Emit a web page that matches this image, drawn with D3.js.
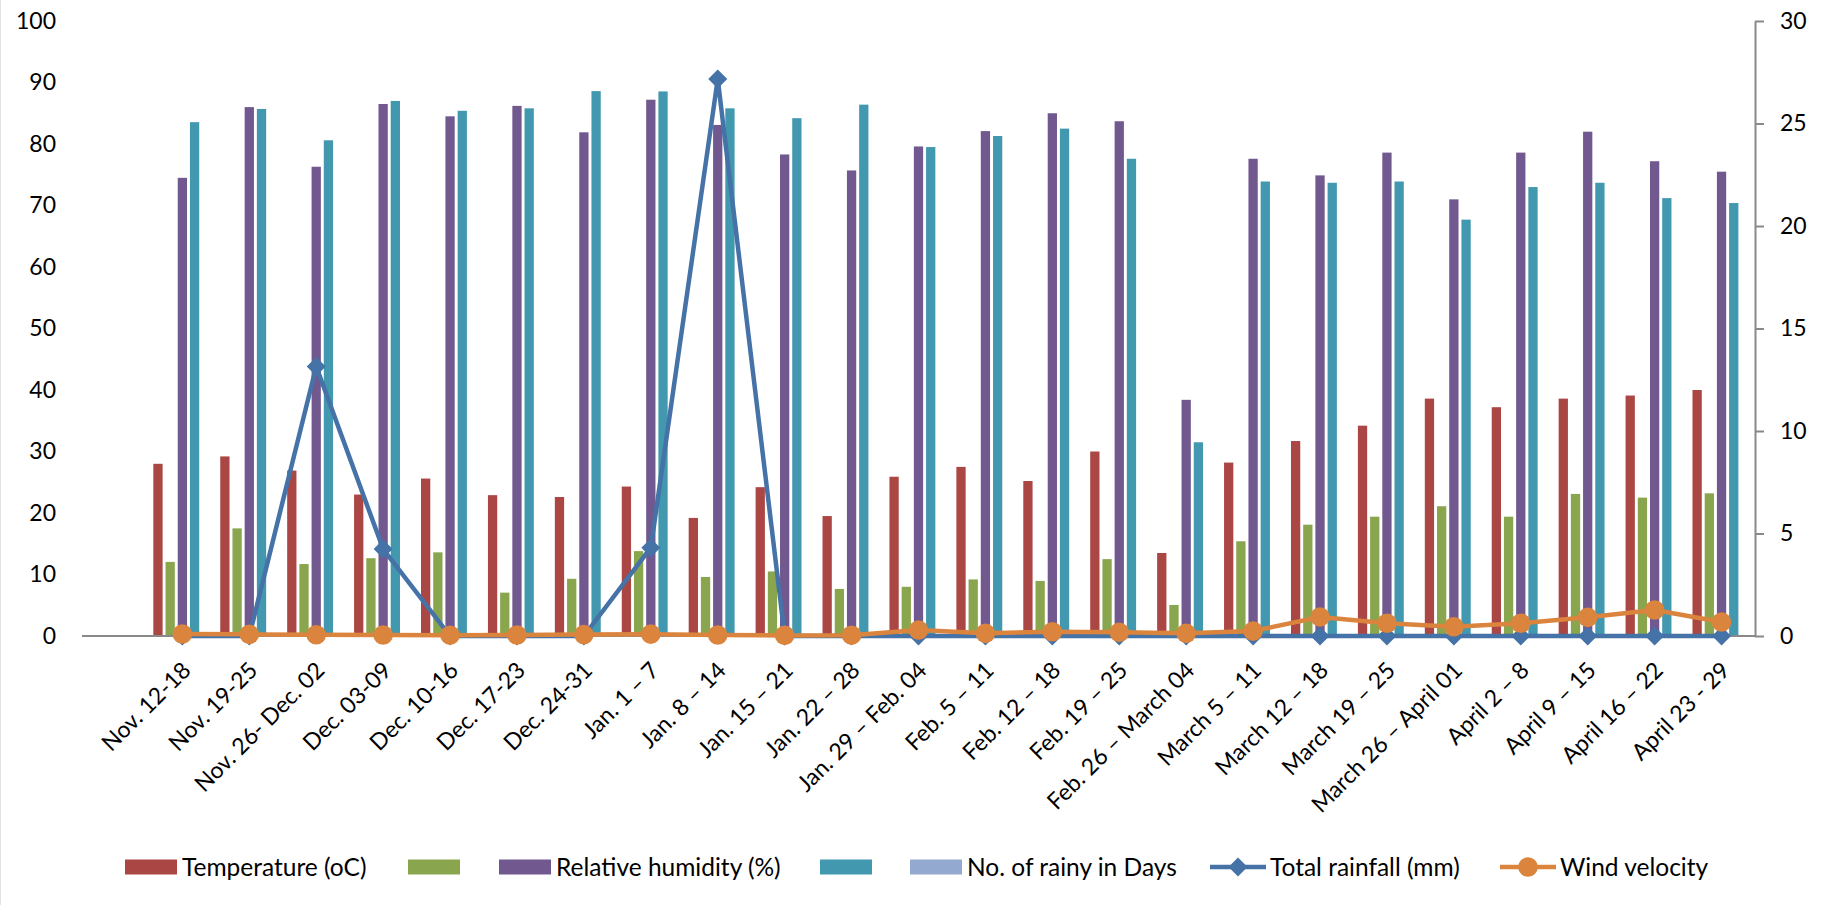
<!DOCTYPE html>
<html>
<head>
<meta charset="utf-8">
<script src="https://cdn.jsdelivr.net/npm/d3@7/dist/d3.min.js"></script>
<style>
  html, body { margin: 0; padding: 0; background: #fff; }
  svg text { font-family: Lato, "Open Sans", sans-serif; fill: #000; }
</style>
</head>
<body>
<svg id="chart" width="1822" height="905"></svg>
<script>
// ---------- data ----------
const categories = ["Nov. 12-18", "Nov. 19-25", "Nov. 26- Dec. 02", "Dec. 03-09", "Dec. 10-16", "Dec. 17-23", "Dec. 24-31",
  "Jan. 1 – 7", "Jan. 8 – 14", "Jan. 15 – 21", "Jan. 22 – 28", "Jan. 29 – Feb. 04", "Feb. 5 – 11", "Feb. 12 – 18",
  "Feb. 19 – 25", "Feb. 26 – March 04", "March 5 – 11", "March 12 – 18", "March 19 – 25", "March 26 – April 01",
  "April 2 – 8", "April 9 – 15", "April 16 – 22", "April 23 - 29"];

const temperature = [28.0, 29.2, 26.9, 23.0, 25.6, 22.9, 22.6, 24.3, 19.2, 24.2, 19.5, 25.9, 27.5, 25.2, 30.0, 13.5, 28.2, 31.7, 34.2, 38.6, 37.2, 38.6, 39.1, 40.0];
const greenSeries = [12.05, 17.5, 11.7, 12.65, 13.6, 7.05, 9.3, 13.8, 9.6, 10.5, 7.65, 8.0, 9.2, 8.96, 12.5, 5.05, 15.4, 18.1, 19.4, 21.1, 19.4, 23.1, 22.5, 23.2];
const humidity = [74.5, 86.0, 76.3, 86.5, 84.5, 86.2, 81.9, 87.2, 83.1, 78.3, 75.7, 79.6, 82.1, 85.0, 83.7, 38.4, 77.6, 74.9, 78.6, 71.0, 78.6, 82.0, 77.2, 75.5];
const tealSeries = [83.55, 85.7, 80.6, 87.0, 85.4, 85.8, 88.6, 88.55, 85.8, 84.2, 86.4, 79.5, 81.3, 82.5, 77.6, 31.5, 73.9, 73.7, 73.9, 67.7, 73.0, 73.7, 71.2, 70.4];
const rainyDays = [0, 0, 0, 0, 0, 0, 0, 0, 0, 0, 0, 0, 0, 0, 0, 0, 0, 0, 0, 0, 0, 0, 0, 0];
const totalRainfall = [0, 0, 13.15, 4.24, 0, 0, 0, 4.31, 27.17, 0, 0, 0, 0, 0, 0, 0, 0, 0, 0, 0, 0, 0, 0, 0];
const windVelocity = [0.10, 0.08, 0.06, 0.05, 0.04, 0.05, 0.07, 0.09, 0.05, 0.03, 0.04, 0.29, 0.13, 0.21, 0.18, 0.13, 0.24, 0.93, 0.62, 0.45, 0.62, 0.91, 1.27, 0.68];

const barSeriesNames = ["Temperature (oC)", "", "Relative humidity (%)", "", "No. of rainy in Days"];
const lineSeriesNames = ["Total rainfall (mm)", "Wind velocity"];
const leftTicks = [0, 10, 20, 30, 40, 50, 60, 70, 80, 90, 100];
const rightTicks = [0, 5, 10, 15, 20, 25, 30];

// ---------- styling ----------
const barColors = ["#AA4643", "#89A54E", "#71588F", "#4198AF", "#93A9CF"];
const lineColors = ["#4572A7", "#DB843D"];
const axisGray = "#898989";
const FONT = 23;

const svg = d3.select("#chart");
const plot = { left: 82, right: 1755, top: 21, bottom: 636 };

// chart-area edge
svg.append("line").attr("x1", 0.5).attr("x2", 0.5).attr("y1", 0).attr("y2", 905)
  .attr("stroke", "#e3e3e3").attr("stroke-width", 1);

const x = d3.scaleBand().domain([""].concat(categories)).range([plot.left, plot.right]).paddingInner(0).paddingOuter(0);
const yL = d3.scaleLinear().domain([0, 100]).range([plot.bottom, plot.top]);
const yR = d3.scaleLinear().domain([0, 30]).range([plot.bottom, plot.top]);

const groupW = x.bandwidth() * 0.912;
const x1 = d3.scaleBand().domain(d3.range(5)).range([-groupW / 2, groupW / 2]).paddingInner(0.24).paddingOuter(0.12);

const barData = [temperature, greenSeries, humidity, tealSeries, rainyDays];
const cx = c => x(c) + x.bandwidth() / 2;

// bars
barData.forEach((vals, si) => {
  svg.append("g").selectAll("rect").data(vals).join("rect")
    .attr("x", (d, i) => cx(categories[i]) + x1(si))
    .attr("width", x1.bandwidth())
    .attr("y", d => yL(d))
    .attr("height", d => yL(0) - yL(d))
    .attr("fill", barColors[si]);
});

// baseline (category axis)
svg.append("line").attr("x1", plot.left).attr("x2", plot.right)
  .attr("y1", yL(0)).attr("y2", yL(0)).attr("stroke", axisGray).attr("stroke-width", 2);

// left axis labels (no line)
const gL = svg.append("g").attr("transform", `translate(${plot.left},0)`)
  .call(d3.axisLeft(yL).tickValues(leftTicks).tickSize(0).tickPadding(26));
gL.select(".domain").remove();
gL.selectAll("text").attr("font-size", FONT).attr("font-family", "Lato, sans-serif").attr("fill", "#000");

// right axis
const gR = svg.append("g").attr("transform", `translate(${plot.right},0)`)
  .call(d3.axisRight(yR).tickValues(rightTicks).tickSize(9).tickSizeOuter(0).tickPadding(16));
gR.select(".domain").attr("stroke", axisGray).attr("stroke-width", 2);
gR.selectAll(".tick line").attr("stroke", axisGray).attr("stroke-width", 2);
gR.selectAll("text").attr("font-size", FONT).attr("font-family", "Lato, sans-serif").attr("fill", "#000");

// category labels
svg.append("g").selectAll("text").data(categories).join("text")
  .attr("transform", c => `translate(${cx(c) + 4},${yL(0) + 30}) rotate(-45)`)
  .attr("text-anchor", "end")
  .attr("dy", "0.35em")
  .attr("font-size", FONT)
  .text(c => c);

// lines
const diamond = "M0,-9.5L9.5,0L0,9.5L-9.5,0Z";
const lineDefs = [
  { vals: totalRainfall, color: lineColors[0], marker: "diamond" },
  { vals: windVelocity, color: lineColors[1], marker: "circle" }
];
lineDefs.forEach(ld => {
  const pts = ld.vals.map((v, i) => [cx(categories[i]), yR(v)]);
  svg.append("path").attr("d", d3.line()(pts)).attr("fill", "none")
    .attr("stroke", ld.color).attr("stroke-width", 4.5).attr("stroke-linejoin", "round");
  const g = svg.append("g");
  if (ld.marker === "diamond") {
    g.selectAll("path").data(pts).join("path")
      .attr("d", diamond).attr("transform", p => `translate(${p[0]},${p[1]})`).attr("fill", ld.color);
  } else {
    g.selectAll("circle").data(pts).join("circle")
      .attr("cx", p => p[0]).attr("cy", p => p[1]).attr("r", 9.8).attr("fill", ld.color);
  }
});

// legend
const legendY = 867;
const legendItems = [
  { type: "rect", color: barColors[0], name: barSeriesNames[0], x: 125 },
  { type: "rect", color: barColors[1], name: barSeriesNames[1], x: 408 },
  { type: "rect", color: barColors[2], name: barSeriesNames[2], x: 499 },
  { type: "rect", color: barColors[3], name: barSeriesNames[3], x: 820 },
  { type: "rect", color: barColors[4], name: barSeriesNames[4], x: 910 },
  { type: "line", color: lineColors[0], name: lineSeriesNames[0], x: 1210, marker: "diamond" },
  { type: "line", color: lineColors[1], name: lineSeriesNames[1], x: 1500, marker: "circle" }
];
const lg = svg.append("g");
legendItems.forEach(it => {
  let tx;
  if (it.type === "rect") {
    lg.append("rect").attr("x", it.x).attr("y", legendY - 7.5).attr("width", 52).attr("height", 15).attr("fill", it.color);
    tx = it.x + 57;
  } else {
    lg.append("line").attr("x1", it.x).attr("x2", it.x + 56).attr("y1", legendY).attr("y2", legendY)
      .attr("stroke", it.color).attr("stroke-width", 4.5);
    if (it.marker === "diamond") {
      lg.append("path").attr("d", diamond).attr("transform", `translate(${it.x + 28},${legendY})`).attr("fill", it.color);
    } else {
      lg.append("circle").attr("cx", it.x + 28).attr("cy", legendY).attr("r", 9.8).attr("fill", it.color);
    }
    tx = it.x + 60;
  }
  if (it.name) {
    lg.append("text").attr("x", tx).attr("y", legendY).attr("dy", "0.35em").attr("font-size", 24.5).text(it.name);
  }
});
</script>
</body>
</html>
